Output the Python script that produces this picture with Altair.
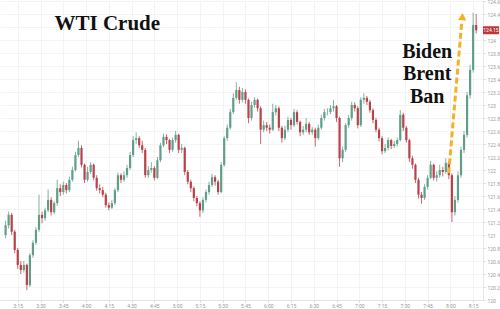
import altair as alt
import pandas as pd

# ---- data (2-minute candles starting 3:07) ----
start_minute = 187
step_minutes = 2

opens = [
    121.00, 121.15, 121.31, 121.05, 120.77, 120.54, 120.46, 120.54, 120.23, 120.69,
    120.88, 121.08, 121.31, 121.26, 121.38, 121.54, 121.35, 121.49, 121.72, 121.66,
    121.77, 121.69, 121.85, 122.00, 122.23, 122.34, 122.08, 121.85, 121.97, 122.08,
    121.88, 121.72, 121.69, 121.62, 121.46, 121.42, 121.49, 121.69, 121.92, 121.85,
    121.92, 122.03, 122.23, 122.46, 122.49, 122.38, 122.31, 121.92, 122.00, 122.03,
    121.88, 122.15, 122.38, 122.51, 122.46, 122.31, 122.46, 122.54, 122.31, 122.34,
    121.97, 121.82, 121.72, 121.57, 121.49, 121.38, 121.54, 121.66, 121.77, 121.89,
    121.82, 121.66, 122.08, 122.49, 122.65, 122.89, 123.11, 123.23, 123.08, 123.20,
    123.08, 122.80, 123.00, 123.08, 122.95, 122.62, 122.69, 122.65, 122.62, 122.89,
    122.95, 122.65, 122.49, 122.62, 122.77, 122.69, 122.89, 122.74, 122.58, 122.62,
    122.71, 122.58, 122.62, 122.49, 122.65, 122.80, 122.89, 122.89, 122.95, 122.98,
    122.80, 122.18, 122.31, 122.69, 122.80, 123.00, 122.95, 122.69, 123.08, 123.11,
    123.05, 122.92, 122.77, 122.62, 122.49, 122.29, 122.34, 122.46, 122.37, 122.40,
    122.46, 122.85, 122.65, 122.46, 122.18, 122.08, 121.85, 121.62, 121.57, 121.74,
    121.88, 122.08, 121.88, 121.92, 122.00, 121.97, 122.11, 121.92, 121.35, 121.54,
    121.92, 122.31, 122.54, 123.15, 123.54, 124.23,
]
closes = [
    121.15, 121.31, 121.05, 120.77, 120.54, 120.46, 120.54, 120.23, 120.69, 120.88,
    121.08, 121.31, 121.26, 121.38, 121.54, 121.35, 121.49, 121.72, 121.66, 121.77,
    121.69, 121.85, 122.00, 122.23, 122.34, 122.08, 121.85, 121.97, 122.08, 121.88,
    121.72, 121.69, 121.62, 121.46, 121.42, 121.49, 121.69, 121.92, 121.85, 121.92,
    122.03, 122.23, 122.46, 122.49, 122.38, 122.31, 121.92, 122.00, 122.03, 121.88,
    122.15, 122.38, 122.51, 122.46, 122.31, 122.46, 122.54, 122.31, 122.34, 121.97,
    121.82, 121.72, 121.57, 121.49, 121.38, 121.54, 121.66, 121.77, 121.89, 121.82,
    121.66, 122.08, 122.49, 122.65, 122.89, 123.11, 123.23, 123.08, 123.20, 123.08,
    122.80, 123.00, 123.08, 122.95, 122.62, 122.69, 122.65, 122.62, 122.89, 122.95,
    122.65, 122.49, 122.62, 122.77, 122.69, 122.89, 122.74, 122.58, 122.62, 122.71,
    122.58, 122.62, 122.49, 122.65, 122.80, 122.89, 122.89, 122.95, 122.98, 122.80,
    122.18, 122.31, 122.69, 122.80, 123.00, 122.95, 122.69, 123.08, 123.11, 123.05,
    122.92, 122.77, 122.62, 122.49, 122.29, 122.34, 122.46, 122.37, 122.40, 122.46,
    122.85, 122.65, 122.46, 122.18, 122.08, 121.85, 121.62, 121.57, 121.74, 121.88,
    122.08, 121.88, 121.92, 122.00, 121.97, 122.11, 121.92, 121.35, 121.54, 121.92,
    122.31, 122.54, 123.15, 123.54, 124.23, 124.15,
]
highs = [
    121.22, 121.36, 121.34, 121.08, 120.80, 120.60, 120.60, 120.56, 120.72, 120.92,
    121.12, 121.62, 121.36, 121.42, 121.70, 121.58, 121.52, 121.85, 121.78, 121.82,
    121.80, 121.90, 122.05, 122.28, 122.45, 122.38, 122.10, 122.05, 122.12, 122.10,
    121.92, 121.78, 121.74, 121.65, 121.50, 121.54, 121.72, 121.96, 121.95, 121.98,
    122.08, 122.28, 122.52, 122.58, 122.52, 122.45, 122.34, 122.06, 122.12, 122.06,
    122.20, 122.42, 122.56, 122.55, 122.48, 122.50, 122.60, 122.56, 122.40, 122.36,
    122.00, 121.85, 121.75, 121.60, 121.52, 121.58, 121.70, 121.82, 121.94, 121.92,
    121.85, 122.12, 122.52, 122.70, 122.94, 123.18, 123.35, 123.28, 123.26, 123.24,
    123.10, 123.05, 123.12, 123.10, 122.98, 122.76, 122.74, 122.70, 123.02, 123.00,
    122.98, 122.68, 122.68, 122.82, 122.80, 122.94, 122.92, 122.76, 122.68, 122.80,
    122.74, 122.66, 122.65, 122.70, 122.85, 122.94, 122.95, 123.00, 123.08, 123.00,
    122.82, 122.36, 122.72, 122.85, 123.05, 123.04, 122.98, 123.12, 123.18, 123.14,
    123.08, 122.95, 122.80, 122.65, 122.52, 122.40, 122.50, 122.48, 122.45, 122.50,
    122.92, 122.88, 122.68, 122.48, 122.22, 122.10, 121.88, 121.66, 121.78, 121.92,
    122.14, 122.10, 121.98, 122.08, 122.05, 122.18, 122.14, 121.95, 121.60, 121.98,
    122.36, 122.60, 123.20, 123.62, 124.42, 124.40,
]
lows = [
    120.95, 121.10, 121.00, 120.72, 120.48, 120.40, 120.42, 120.15, 120.20, 120.65,
    120.85, 121.05, 121.18, 121.22, 121.35, 121.30, 121.32, 121.45, 121.60, 121.62,
    121.64, 121.66, 121.82, 121.98, 122.20, 122.04, 121.80, 121.82, 121.94, 121.84,
    121.68, 121.64, 121.58, 121.42, 121.38, 121.40, 121.46, 121.66, 121.80, 121.82,
    121.88, 122.00, 122.20, 122.40, 122.34, 122.26, 121.88, 121.88, 121.96, 121.84,
    121.86, 122.12, 122.35, 122.40, 122.26, 122.28, 122.42, 122.26, 122.26, 121.92,
    121.78, 121.66, 121.52, 121.44, 121.28, 121.34, 121.50, 121.62, 121.74, 121.76,
    121.62, 121.64, 122.05, 122.45, 122.62, 122.86, 123.08, 123.02, 123.04, 123.02,
    122.72, 122.76, 122.96, 122.90, 122.40, 122.58, 122.60, 122.56, 122.60, 122.84,
    122.60, 122.42, 122.46, 122.58, 122.62, 122.66, 122.70, 122.52, 122.54, 122.58,
    122.54, 122.54, 122.36, 122.46, 122.62, 122.76, 122.84, 122.86, 122.90, 122.74,
    122.05, 122.12, 122.28, 122.65, 122.76, 122.90, 122.64, 122.66, 123.02, 123.00,
    122.88, 122.72, 122.58, 122.44, 122.24, 122.26, 122.30, 122.32, 122.34, 122.36,
    122.44, 122.60, 122.42, 122.12, 122.02, 121.80, 121.56, 121.48, 121.54, 121.70,
    121.86, 121.84, 121.82, 121.88, 121.90, 121.94, 121.86, 121.20, 121.30, 121.50,
    121.88, 122.26, 122.50, 123.10, 123.50, 124.10,
]

x_tick_values = [195, 210, 225, 240, 255, 270, 285, 300, 315, 330, 345, 360, 375,
                 390, 405, 420, 435, 450, 465, 480, 495]
y_tick_values = [120.0, 120.2, 120.4, 120.6, 120.8, 121.0, 121.2, 121.4, 121.6,
                 121.8, 122.0, 122.2, 122.4, 122.6, 122.8, 123.0, 123.2, 123.4,
                 123.6, 123.8, 124.0, 124.2, 124.4, 124.6]

title_text = ["WTI Crude"]
title_x = [254.0]
title_y = [124.25]

note_lines = ["Biden", "Brent", "Ban"]
note_x = [464.7, 464.7, 464.7]
note_y = [123.82, 123.47, 123.13]

arrow_x = [478.9]
arrow_y = [121.95]
arrow_x2 = [487.5]
arrow_y2 = [124.28]
head_x = [487.9]
head_y = [124.36]

last_price = [124.15]
last_label = ["124.15"]

# ---- frames ----
candles = pd.DataFrame({
    "t": [start_minute + step_minutes * i for i in range(len(closes))],
    "open": opens, "close": closes, "high": highs, "low": lows,
})
title_df = pd.DataFrame({"t": title_x, "p": title_y, "label": title_text})
note_df = pd.DataFrame({"t": note_x, "p": note_y, "label": note_lines})
arrow_df = pd.DataFrame({"t": arrow_x, "p": arrow_y, "t2": arrow_x2, "p2": arrow_y2})
head_df = pd.DataFrame({"t": head_x, "p": head_y})
last_df = pd.DataFrame({"p": last_price, "label": last_label})

GREEN = "#5f9f88"
RED = "#b9414b"
ORANGE = "#f1b228"

xscale = alt.Scale(domain=[186.6, 498.2], nice=False, zero=False)
yscale = alt.Scale(domain=[120, 124.6], nice=False, zero=False)

x_axis = alt.Axis(
    values=x_tick_values,
    labelExpr="floor(datum.value/60) + ':' + (datum.value % 60 < 10 ? '0' : '') + (datum.value % 60)",
    grid=True, gridColor="#ececec", gridWidth=0.6,
    labelFontSize=5, labelColor="#9a9a9a", labelFont="Roboto",
    tickSize=2, tickColor="#d8d8d8", domainColor="#d8d8d8", domainWidth=0.6,
    labelPadding=1, title=None,
)
# the 124.2 label sits under the last-price tag, as in the reference
y_axis = alt.Axis(
    orient="right", values=y_tick_values,
    labelExpr="abs(datum.value - 124.2) < 0.01 ? '' : format(datum.value, '~g')",
    grid=True, gridColor="#ececec", gridWidth=0.6,
    labelFontSize=5, labelColor="#9a9a9a", labelFont="Roboto",
    tickSize=2, tickColor="#d8d8d8", domainColor="#d8d8d8", domainWidth=0.6,
    labelPadding=2, title=None,
)

X = alt.X("t:Q", scale=xscale, axis=x_axis)
color = alt.condition("datum.close >= datum.open", alt.value(GREEN), alt.value(RED))

wicks = alt.Chart(candles).mark_rule(strokeWidth=0.8).encode(
    x=X,
    y=alt.Y("low:Q", scale=yscale, axis=y_axis),
    y2="high:Q",
    color=color,
)
bodies = alt.Chart(candles).mark_bar(size=2.2).encode(
    x=X,
    y=alt.Y("open:Q", scale=yscale, axis=y_axis),
    y2="close:Q",
    color=color,
)

title = alt.Chart(title_df).mark_text(
    font="Liberation Serif", fontSize=21, fontWeight="bold", color="#111",
    align="center", baseline="middle",
).encode(x=X, y=alt.Y("p:Q", scale=yscale, axis=y_axis), text="label:N")

notes = alt.Chart(note_df).mark_text(
    font="Liberation Serif", fontSize=20, fontWeight="bold", color="#111",
    align="center", baseline="middle",
).encode(x=X, y=alt.Y("p:Q", scale=yscale, axis=y_axis), text="label:N")

arrow = alt.Chart(arrow_df).mark_rule(
    color=ORANGE, strokeWidth=3, strokeDash=[6, 3],
).encode(x=X, y=alt.Y("p:Q", scale=yscale, axis=y_axis), x2="t2:Q", y2="p2:Q")

head = alt.Chart(head_df).mark_point(
    shape="triangle-up", filled=True, size=70, angle=3, color=ORANGE, opacity=1,
).encode(x=X, y=alt.Y("p:Q", scale=yscale, axis=y_axis))

tag = alt.Chart(last_df).mark_tick(
    orient="horizontal", size=16, thickness=8, color="#c0353a", opacity=1,
).encode(x=alt.value(491), y=alt.Y("p:Q", scale=yscale, axis=y_axis))

tag_text = alt.Chart(last_df).mark_text(
    fontSize=5, color="white", align="center", baseline="middle", font="Roboto",
).encode(x=alt.value(491), y=alt.Y("p:Q", scale=yscale, axis=y_axis), text="label:N")

chart = alt.layer(wicks, bodies, arrow, head, title, notes, tag, tag_text).properties(
    width=483, height=299,
    autosize=alt.AutoSizeParams(type="none"),
    padding={"left": 0, "top": 1, "right": 17, "bottom": 9},
    background="white",
).configure_view(strokeWidth=0)

chart.save("out.html", embed_options={"renderer": "svg", "actions": False})
